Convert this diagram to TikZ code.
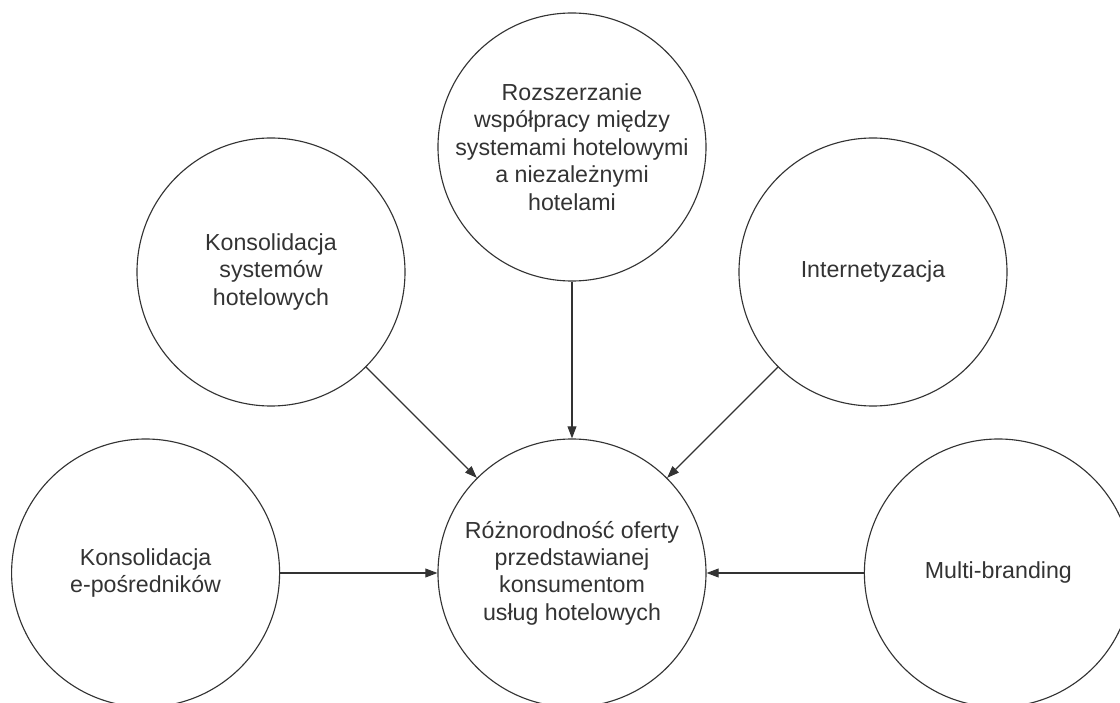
\documentclass[tikz,border=0pt]{standalone}
\usepackage{fontspec}
\setmainfont{Liberation Sans}
\usepackage{xcolor}
\usepackage{tikz}
\usetikzlibrary{arrows.meta}
\usetikzlibrary{positioning}

\definecolor{linegray}{HTML}{333333}

\begin{document}
\begin{tikzpicture}[every node/.style={circle, draw=linegray, line width=0.8pt, minimum size=6.7cm, inner sep=0pt, align=center, text=linegray, font=\fontsize{16.5}{19.5}\selectfont}]

        \useasboundingbox (-14.3,-3.225) rectangle (13.7,14.325);

        \node (C) at (0,0) {Różnorodność oferty\\przedstawianej\\konsumentom\\usług hotelowych};

        \node (T) at (0,10.65) {Rozszerzanie\\współpracy między\\systemami hotelowymi\\a niezależnymi\\hotelami};
        \node (UL) at (-7.525,7.525) {Konsolidacja\\systemów\\hotelowych};
        \node (UR) at (7.525,7.525) {Internetyzacja};
        \node (BL) at (-10.66,0) {Konsolidacja\\e-pośredników};
        \node (BR) at (10.66,0) {Multi-branding};

        \draw[-{Triangle[length=3mm, width=2.2mm]}, line width=0.8pt, linegray] (T) -- (C);
        \draw[-{Triangle[length=3mm, width=2.2mm]}, line width=0.8pt, linegray] (UL) -- (C);
        \draw[-{Triangle[length=3mm, width=2.2mm]}, line width=0.8pt, linegray] (UR) -- (C);
        \draw[-{Triangle[length=3mm, width=2.2mm]}, line width=0.8pt, linegray] (BL) -- (C);
        \draw[-{Triangle[length=3mm, width=2.2mm]}, line width=0.8pt, linegray] (BR) -- (C);

    \end{tikzpicture}
\end{document}
